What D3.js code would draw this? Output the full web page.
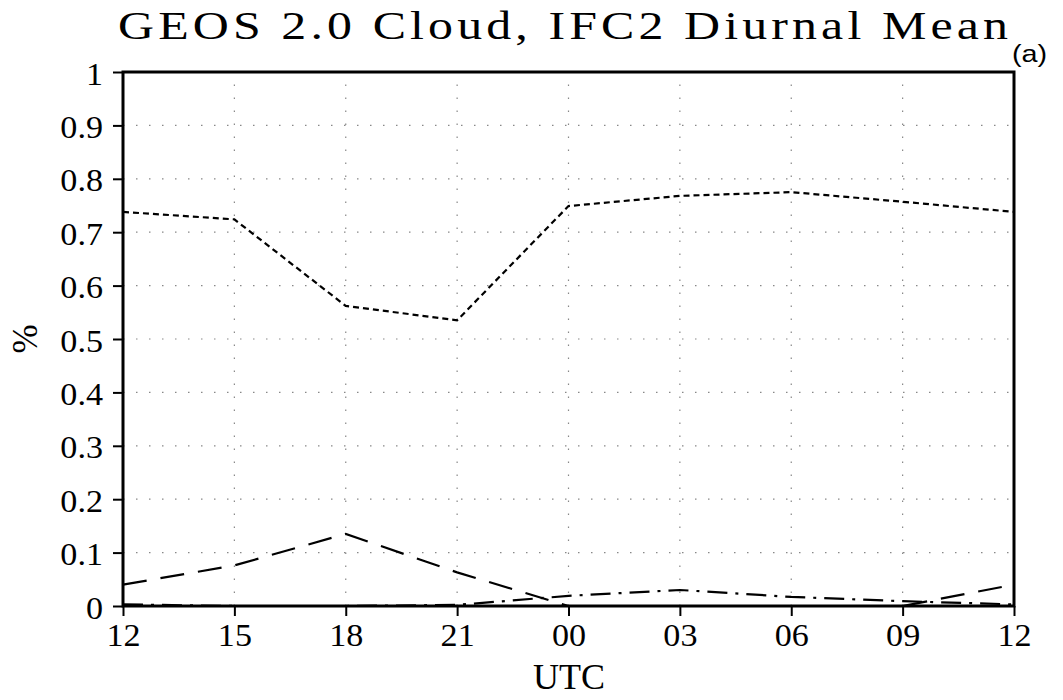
<!DOCTYPE html>
<html>
<head>
<meta charset="utf-8">
<script src="https://cdn.jsdelivr.net/npm/d3@7"></script>
<style>
  html, body { margin: 0; padding: 0; background: #fff; }
  svg { display: block; }
  text { font-family: "Liberation Serif", "DejaVu Serif", serif; fill: #000; }
</style>
</head>
<body>
<svg id="chart" width="1063" height="700"></svg>
<script>
// Hours of the diurnal cycle (UTC), 12 through 12 the next day
const hours = ["12", "15", "18", "21", "00", "03", "06", "09", "12"];
// Cloud fraction per level
const shortDash = [0.738, 0.724, 0.562, 0.535, 0.749, 0.768, 0.775, 0.757, 0.738];
const longDash  = [0.040, 0.076, 0.135, 0.063, 0.000, 0.000, 0.000, 0.000, 0.040];
const dashDot   = [0.003, 0.000, 0.000, 0.002, 0.019, 0.030, 0.017, 0.009, 0.003];
const yTicks = [0, 0.1, 0.2, 0.3, 0.4, 0.5, 0.6, 0.7, 0.8, 0.9, 1];
const title = "GEOS 2.0 Cloud, IFC2 Diurnal Mean";

const svg = d3.select("#chart");
const plot = { left: 123, right: 1014, top: 72, bottom: 606 };
const wide = 1.1; // horizontal stretch for the wide plotting font

const x = d3.scaleLinear().domain([0, hours.length - 1]).range([plot.left, plot.right]);
const y = d3.scaleLinear().domain([0, 1]).range([plot.bottom, plot.top]);

// dotted grid
const grid = svg.append("g").attr("stroke", "#888").attr("stroke-width", 1.2)
  .attr("stroke-dasharray", "1.5,11.5");
grid.selectAll("line.v").data(d3.range(1, hours.length - 1)).join("line")
  .attr("class", "v")
  .attr("x1", d => x(d)).attr("x2", d => x(d))
  .attr("y1", plot.bottom).attr("y2", plot.top);
grid.selectAll("line.h").data(yTicks.slice(1, -1)).join("line")
  .attr("class", "h")
  .attr("x1", plot.left).attr("x2", plot.right)
  .attr("y1", d => y(d)).attr("y2", d => y(d));

// series
const line = d3.line().x((d, i) => x(i)).y(d => y(d));
const series = [
  { v: shortDash, dash: "6,4" },
  { v: longDash, dash: "24,14" },
  { v: dashDot, dash: "20,8,3,8" }
];
svg.append("g").selectAll("path").data(series).join("path")
  .attr("d", d => line(d.v))
  .attr("fill", "none").attr("stroke", "#000").attr("stroke-width", 2.2)
  .attr("stroke-dasharray", d => d.dash);

// axes
const yAxis = d3.axisLeft(y).tickValues(yTicks).tickSize(10)
  .tickFormat(d => d === 0 ? "0" : d === 1 ? "1" : d3.format(".1f")(d));
const gy = svg.append("g").attr("transform", `translate(${plot.left},0)`).call(yAxis);
const xAxis = d3.axisBottom(x).tickValues(d3.range(hours.length)).tickSize(10)
  .tickFormat(i => hours[i]);
const gx = svg.append("g").attr("transform", `translate(0,${plot.bottom})`).call(xAxis);
[gx, gy].forEach(g => {
  g.select(".domain").remove();
  g.selectAll(".tick line").attr("stroke", "#000").attr("stroke-width", 2);
  g.selectAll(".tick text").attr("font-size", 31)
    .attr("font-family", "Liberation Serif, DejaVu Serif, serif");
});
gy.selectAll(".tick text")
  .attr("x", 0).attr("y", 12).attr("dy", null)
  .attr("transform", `translate(-20,0) scale(${wide},1)`);
gx.selectAll(".tick text")
  .attr("y", 40).attr("dy", null)
  .attr("transform", `scale(${wide},1)`);

// frame
svg.append("rect").attr("x", plot.left).attr("y", plot.top)
  .attr("width", plot.right - plot.left).attr("height", plot.bottom - plot.top)
  .attr("fill", "none").attr("stroke", "#000").attr("stroke-width", 3);

// title in a wide, evenly spaced setting
const titleScale = 1.28;
svg.append("text")
  .attr("transform", `translate(118,39) scale(${titleScale},1)`)
  .attr("font-size", 39).attr("textLength", 890 / titleScale).attr("lengthAdjust", "spacing")
  .text(title);
svg.append("text").attr("transform", "translate(1012,62) scale(1.2,1)")
  .attr("font-size", 24).style("font-family", "Liberation Sans, Arial, sans-serif")
  .text("(a)");
svg.append("text").attr("x", 569).attr("y", 689).attr("text-anchor", "middle")
  .attr("font-size", 36).text("UTC");
svg.append("text").attr("transform", "translate(37,339) rotate(-90)")
  .attr("text-anchor", "middle").attr("font-size", 35).text("%");
</script>
</body>
</html>
